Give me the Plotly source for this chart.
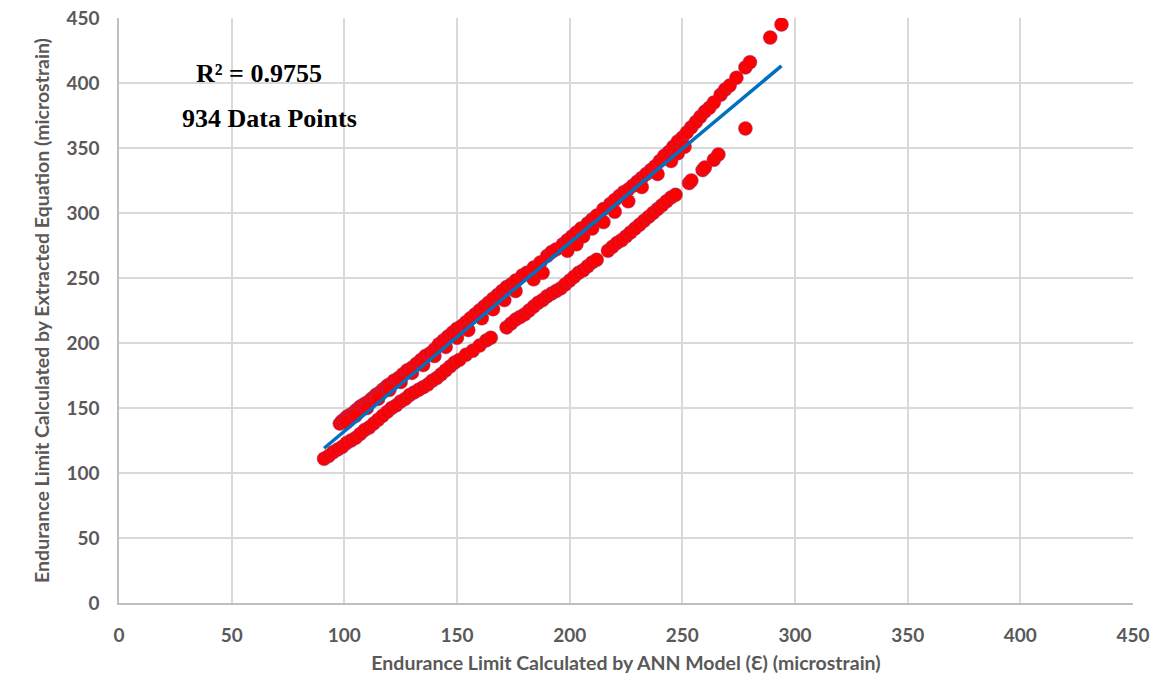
import plotly.graph_objects as go

# Main band: equation values running just above the fitted trend
upper_x = [98, 99, 100, 101, 102, 103, 104, 105, 106, 107, 108, 109, 110, 111, 112, 113, 114, 115, 116, 117,
           118, 119, 120, 122, 124, 126, 128, 130, 132, 134, 136, 138, 140, 142, 144, 146, 148, 150, 152, 154,
           156, 158, 160, 162, 164, 166, 168, 170, 172, 174, 176, 179, 181, 184, 187, 190, 192, 194, 197, 199,
           201, 203, 205, 208, 210, 212, 215, 218, 220, 222, 224, 226, 228, 230, 232, 234, 236, 238, 240, 242,
           244, 246, 248, 250, 252, 254, 256, 258, 260, 262, 264, 267, 269, 271, 274, 278, 280, 289, 294]
upper_y = [138, 140, 141, 143, 144, 145, 146, 148, 149, 151, 152, 153, 154, 155, 157, 158, 160, 161, 162, 164,
           165, 167, 168, 171, 173, 176, 179, 181, 184, 187, 190, 192, 195, 199, 202, 205, 208, 211, 213, 216,
           219, 222, 225, 228, 231, 234, 237, 240, 243, 245, 248, 252, 254, 258, 262, 267, 270, 272, 276, 279,
           282, 285, 288, 292, 295, 298, 303, 307, 310, 313, 316, 318, 321, 324, 327, 330, 333, 336, 340, 344,
           347, 351, 355, 358, 362, 366, 370, 374, 378, 381, 385, 391, 395, 398, 404, 412, 416, 435, 445]

# Points sitting between the main band and the trend line
mid_x = [101, 105, 110, 115, 120, 125, 130, 135, 140, 145, 150, 155, 161, 166, 171, 176, 184, 188, 199, 203,
         206, 210, 215, 220, 226, 232, 239, 245, 248, 251, 278]
mid_y = [139, 144, 150, 157, 164, 170, 177, 183, 190, 197, 204, 210, 219, 226, 233, 240, 249, 254, 271, 276,
         282, 288, 293, 301, 309, 320, 330, 340, 346, 351, 365]

# Lower band: equation values below the trend
lower_x = [91, 93, 95, 97, 99, 101, 103, 105, 107, 109, 111, 113, 115, 117, 119, 121, 123, 125, 127, 129,
           131, 133, 135, 137, 139, 141, 143, 145, 147, 149, 151, 154, 157, 160, 163, 165, 172, 174, 176, 178,
           180, 182, 184, 186, 188, 190, 192, 194, 196, 198, 200, 202, 204, 206, 208, 210, 212, 217, 219, 221,
           223, 225, 227, 229, 231, 233, 235, 237, 239, 241, 243, 245, 247, 253, 254, 259, 260, 264, 266]
lower_y = [111, 113, 116, 118, 120, 123, 125, 127, 130, 133, 135, 138, 141, 144, 147, 150, 152, 155, 157, 160,
           162, 164, 166, 168, 171, 173, 176, 179, 182, 185, 187, 191, 194, 198, 202, 204, 212, 215, 218, 220,
           222, 225, 228, 231, 233, 236, 238, 240, 242, 245, 248, 251, 254, 256, 259, 262, 264, 271, 274, 277,
           279, 282, 285, 288, 291, 294, 297, 300, 303, 306, 309, 312, 314, 323, 325, 333, 335, 341, 345]

# Linear trend line (Excel-style) over the data range
trend_slope = 1.449
trend_intercept = -12.8
trend_x = [91, 294]

axis_ticks = [0, 50, 100, 150, 200, 250, 300, 350, 400, 450]

all_x = upper_x + mid_x + lower_x
all_y = upper_y + mid_y + lower_y
trend_y = [trend_slope * v + trend_intercept for v in trend_x]

grey_text = "#595959"
font_fam = "Lato, 'Open Sans', sans-serif"
serif_fam = "'Liberation Serif', 'Times New Roman', serif"

fig = go.Figure()
fig.add_trace(go.Scatter(
    x=all_x, y=all_y, mode="markers",
    marker=dict(size=14, color="#ff0000",
                line=dict(color="rgba(100,80,170,0.5)", width=0.8)),
    showlegend=False, hoverinfo="x+y",
))
fig.add_trace(go.Scatter(
    x=trend_x, y=trend_y, mode="lines",
    line=dict(color="#0070c0", width=3.5),
    showlegend=False, hoverinfo="skip",
))

axis_common = dict(
    range=[0, 450], tickvals=axis_ticks, showgrid=True, gridcolor="#d9d9d9", gridwidth=1.5,
    zeroline=False, showline=True, linecolor="#bfbfbf", linewidth=1.5,
    tickfont=dict(family=font_fam, size=19, color=grey_text, weight="bold"),
    ticks="", ticklabelstandoff=14, fixedrange=True, automargin=False,
)

fig.update_layout(
    width=1159, height=682,
    margin=dict(l=119, r=26, t=18, b=79),
    paper_bgcolor="white", plot_bgcolor="white",
    xaxis=dict(**axis_common,
               title=dict(text="Endurance Limit Calculated by ANN Model (Ɛ) (microstrain)",
                          font=dict(family=font_fam, size=19.5, color=grey_text, weight="bold"),
                          standoff=12)),
    yaxis=dict(**axis_common,
               title=dict(text="Endurance Limit Calculated by Extracted Equation (microstrain)",
                          font=dict(family=font_fam, size=19.5, color=grey_text, weight="bold"),
                          standoff=12)),
    annotations=[
        dict(x=62, y=407, xref="x", yref="y", text="R² = 0.9755", showarrow=False,
             font=dict(family=serif_fam, size=26, color="black", weight="bold")),
        dict(x=67, y=373, xref="x", yref="y", text="934 Data Points", showarrow=False,
             font=dict(family=serif_fam, size=26, color="black", weight="bold")),
    ],
)

fig.write_html("out.html")
